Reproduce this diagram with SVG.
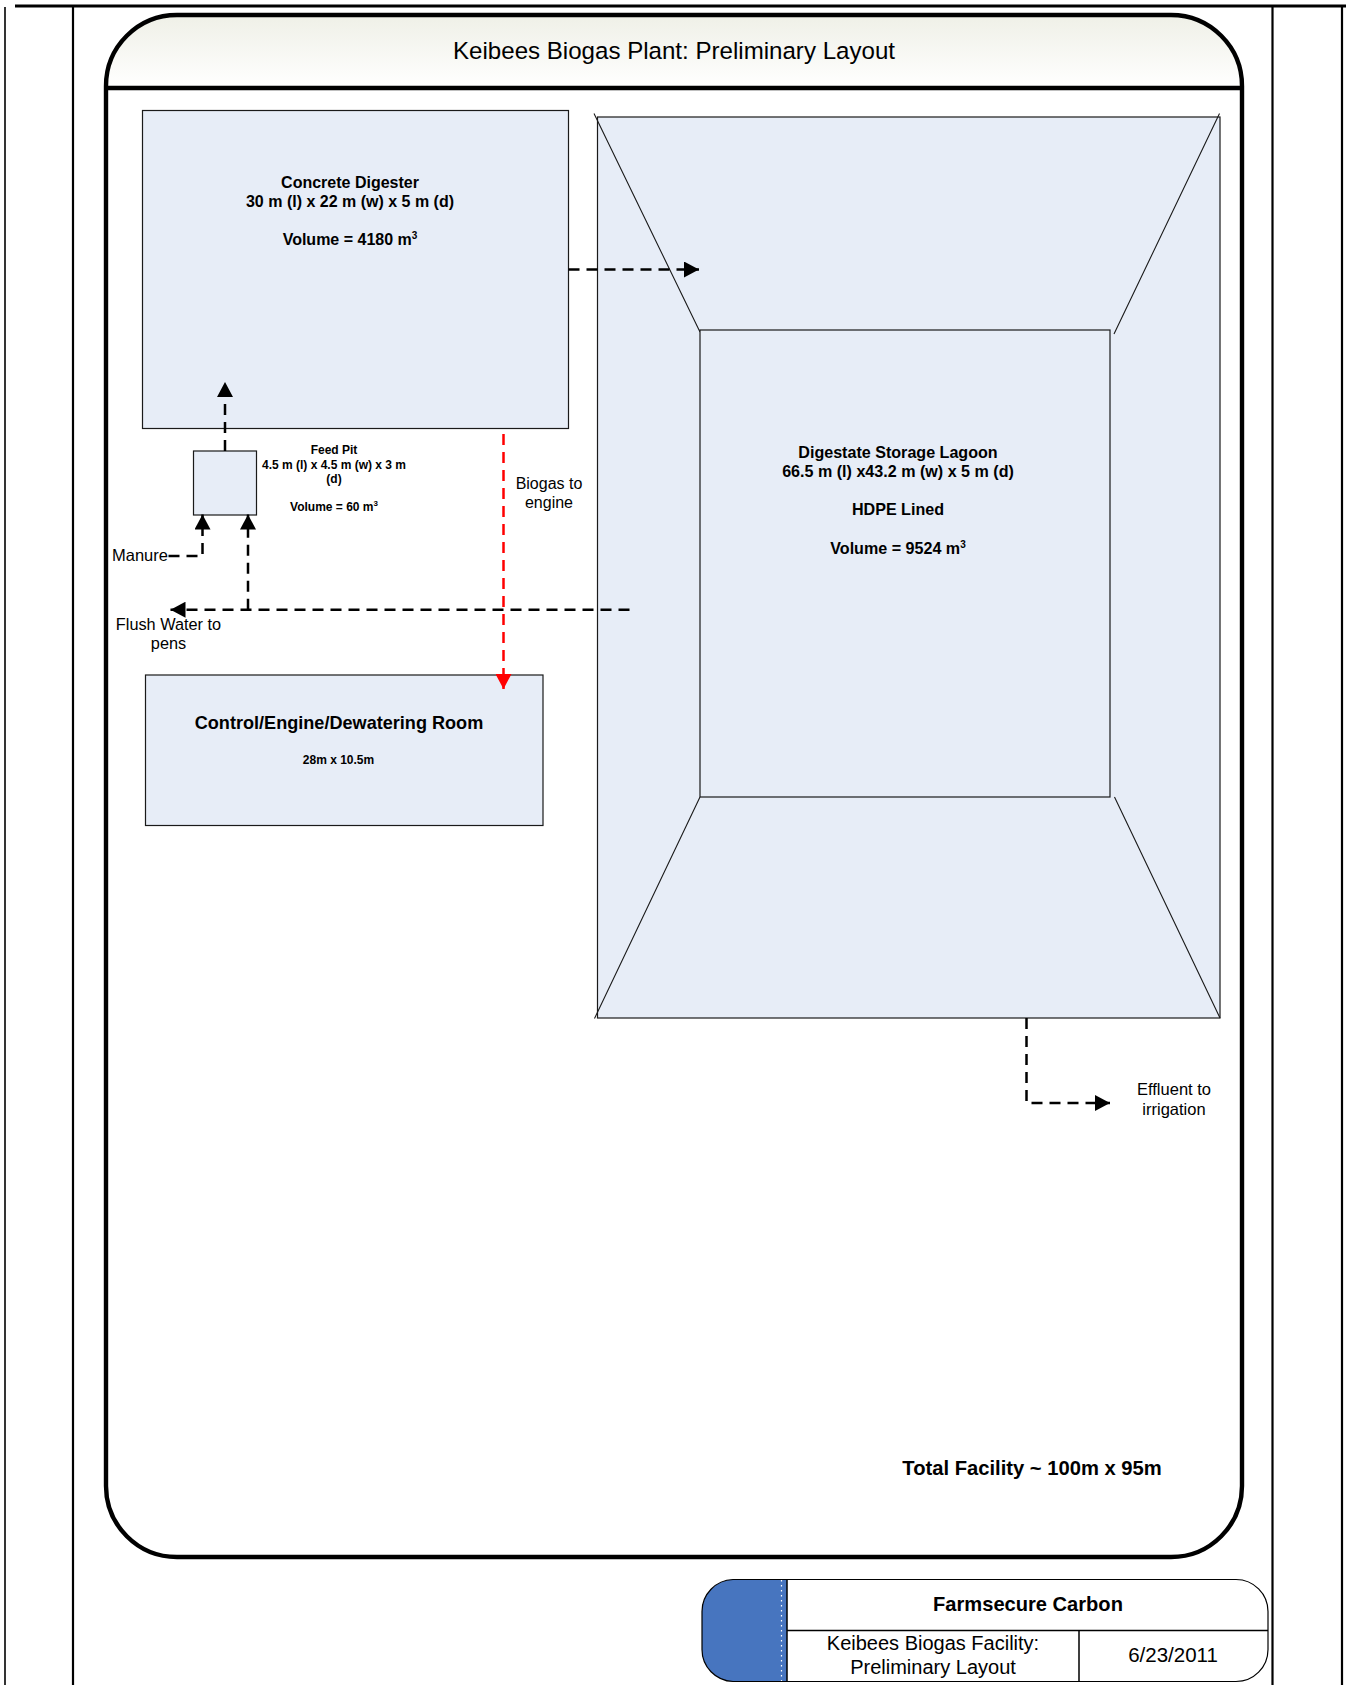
<svg xmlns="http://www.w3.org/2000/svg" width="1346" height="1685" viewBox="0 0 1346 1685">
<style>
text{font-family:"Liberation Sans",Arial,sans-serif;fill:#000;text-anchor:middle}
.b{font-weight:bold}
.box{fill:#e7edf7;stroke:#1a1a1a;stroke-width:1.2}
.dia{fill:none;stroke:#1a1a1a;stroke-width:1.1}
.dash{fill:none;stroke:#000;stroke-width:2.5;stroke-dasharray:11 7}
.page{fill:none;stroke:#000;stroke-width:2.2}
</style>
<defs>
<linearGradient id="hdr" x1="0" y1="0" x2="0" y2="1"><stop offset="0" stop-color="#eff0e7"/><stop offset="1" stop-color="#ffffff"/></linearGradient>
<marker id="ah" markerUnits="userSpaceOnUse" markerWidth="16" markerHeight="16" refX="15" refY="8" orient="auto"><path d="M0 0L15 8L0 16Z" fill="#000"/></marker>
<marker id="ar" markerUnits="userSpaceOnUse" markerWidth="16" markerHeight="16" refX="15" refY="8" orient="auto"><path d="M0 0L15 8L0 16Z" fill="#f00"/></marker>
</defs>
<rect width="1346" height="1685" fill="#fff"/>
<g id="page">
<path class="page" d="M5 1685V7" style="stroke-width:1.6"/>
<path class="page" d="M15 6H1346" style="stroke-width:3"/>
<path class="page" d="M73 6V1685M1272.500 6V1685M1342 6V1685"/>
</g>
<g id="frame">
<path d="M106 88V86A71 71 0 0 1 177 15H1171A71 71 0 0 1 1242 86V88Z" fill="url(#hdr)"/>
<path d="M177 15H1171A71 71 0 0 1 1242 86V1486A71 71 0 0 1 1171 1557H177A71 71 0 0 1 106 1486V86A71 71 0 0 1 177 15ZM106 88H1242" fill="none" stroke="#000" stroke-width="4.400"/>
<text x="674" y="59" font-size="24.100">Keibees Biogas Plant: Preliminary Layout</text>
</g>
<g id="digester">
<rect class="box" x="142.500" y="110.500" width="426" height="318"/>
<text class="b" x="350" y="188" font-size="16">Concrete Digester</text>
<text class="b" x="350" y="207" font-size="16">30 m (l) x 22 m (w) x 5 m (d)</text>
<text class="b" x="350" y="245" font-size="16">Volume = 4180 m<tspan font-size="10" dy="-6">3</tspan></text>
</g>
<g id="feed-pit">
<rect class="box" x="193.500" y="451" width="63" height="64"/>
<text class="b" x="334" y="454" font-size="12">Feed Pit</text>
<text class="b" x="334" y="469" font-size="12">4.5 m (l) x 4.5 m (w) x 3 m</text>
<text class="b" x="334" y="483" font-size="12">(d)</text>
<text class="b" x="334" y="511" font-size="12">Volume = 60 m<tspan font-size="8" dy="-5">3</tspan></text>
</g>
<g id="control-room">
<rect class="box" x="145.500" y="675" width="397.500" height="150.500"/>
<text class="b" x="339" y="729" font-size="18.100">Control/Engine/Dewatering Room</text>
<text class="b" x="338.500" y="764" font-size="12">28m x 10.5m</text>
</g>
<g id="lagoon">
<rect class="box" x="597.500" y="117" width="622.500" height="901"/>
<path class="dia" d="M594 113.500L700 332M1219.500 113.500L1114 334M700 797L594.500 1018.500M1114.500 797L1220 1018"/>
<rect class="box" x="700" y="330" width="410" height="467"/>
<text class="b" x="898" y="458" font-size="16.100">Digestate Storage Lagoon</text>
<text class="b" x="898" y="477" font-size="16.100">66.5 m (l) x43.2 m (w) x 5 m (d)</text>
<text class="b" x="898" y="515" font-size="16.100">HDPE Lined</text>
<text class="b" x="898" y="553.500" font-size="16.100">Volume = 9524 m<tspan font-size="10" dy="-6">3</tspan></text>
</g>
<g id="connectors">
<path class="dash" d="M568.500 269.500H699" marker-end="url(#ah)"/>
<path class="dash" d="M225 451V382" marker-end="url(#ah)"/>
<path class="dash" d="M503.500 434V689" marker-end="url(#ar)" style="stroke:#f00"/>
<path class="dash" d="M168.500 556H202.500V514.500" marker-end="url(#ah)"/>
<path class="dash" d="M629.500 609.700H170.500" marker-end="url(#ah)"/>
<path class="dash" d="M248 609.700V514.500" marker-end="url(#ah)"/>
<path class="dash" d="M1026.500 1018V1103H1110" marker-end="url(#ah)"/>
</g>
<g id="labels">
<text x="549" y="489" font-size="16">Biogas to</text>
<text x="549" y="508" font-size="16">engine</text>
<text x="140" y="561" font-size="16.500">Manure</text>
<text x="168.500" y="630" font-size="16.300">Flush Water to</text>
<text x="168.500" y="649" font-size="16.300">pens</text>
<text x="1174" y="1095" font-size="16.500">Effluent to</text>
<text x="1174" y="1115" font-size="16.500">irrigation</text>
<text class="b" x="1032" y="1475" font-size="20.200">Total Facility ~ 100m x 95m</text>
</g>
<g id="title-block">
<path d="M733 1579.500H787V1681.500H733A32 32 0 0 1 702 1649.500V1611.500A32 32 0 0 1 733 1579.500Z" fill="#4775bf"/>
<path d="M733 1579.500H1236A32 32 0 0 1 1268 1611.500V1649.500A32 32 0 0 1 1236 1681.500H733A32 32 0 0 1 702 1649.500V1611.500A32 32 0 0 1 733 1579.500Z" fill="none" stroke="#000" stroke-width="1.2"/>
<path d="M787 1579.500V1681.500M787 1630.500H1268M1079 1630.500V1681.500" fill="none" stroke="#000" stroke-width="1.5"/>
<path d="M781.500 1580V1681" fill="none" stroke="#fff" stroke-width="1.2" stroke-dasharray="1.500 3.500"/>
<text class="b" x="1028" y="1611" font-size="20.100">Farmsecure Carbon</text>
<text x="933" y="1650" font-size="20">Keibees Biogas Facility:</text>
<text x="933" y="1674" font-size="20">Preliminary Layout</text>
<text x="1173" y="1662" font-size="20.500">6/23/2011</text>
</g>
</svg>
